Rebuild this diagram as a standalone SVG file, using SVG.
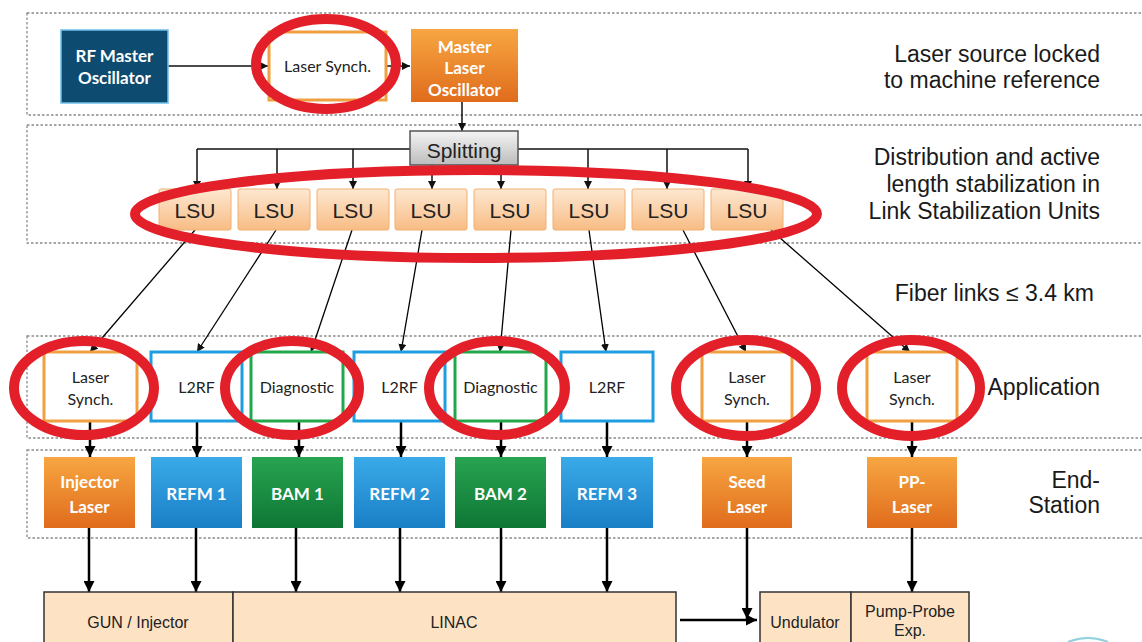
<svg xmlns="http://www.w3.org/2000/svg" width="1142" height="642" viewBox="0 0 1142 642">
<defs>
<linearGradient id="gOrange" x1="0" y1="0" x2="0" y2="1"><stop offset="0" stop-color="#f7a642"/><stop offset="1" stop-color="#e06c1c"/></linearGradient>
<linearGradient id="gBlue" x1="0" y1="0" x2="0" y2="1"><stop offset="0" stop-color="#3aaae8"/><stop offset="1" stop-color="#1a7fc6"/></linearGradient>
<linearGradient id="gGreen" x1="0" y1="0" x2="0" y2="1"><stop offset="0" stop-color="#27a451"/><stop offset="1" stop-color="#0f7634"/></linearGradient>
<linearGradient id="gLSU" x1="0" y1="0" x2="0" y2="1"><stop offset="0" stop-color="#fde8d2"/><stop offset="1" stop-color="#f8bc84"/></linearGradient>
<linearGradient id="gSplit" x1="0" y1="0" x2="0" y2="1"><stop offset="0" stop-color="#f4f4f4"/><stop offset="1" stop-color="#bcbcbc"/></linearGradient>
<marker id="ah" viewBox="0 0 10 10" refX="10" refY="5" markerWidth="8" markerHeight="8" markerUnits="userSpaceOnUse" orient="auto"><path d="M0,0 L10,5 L0,10 z" fill="#111"/></marker>
<marker id="ahb" viewBox="0 0 10 10" refX="10" refY="5" markerWidth="11" markerHeight="11" markerUnits="userSpaceOnUse" orient="auto"><path d="M0,0 L10,5 L0,10 z" fill="#000"/></marker>
</defs>
<style>
.sec{fill:none;stroke:#8a8a8a;stroke-width:1.3;stroke-dasharray:2.5 2}
.lbl{font-family:"Liberation Sans",Arial,sans-serif;font-size:23px;fill:#1a1a1a;text-anchor:end}
.wb{font-family:Lato,"Open Sans",sans-serif;font-weight:bold;fill:#fff;text-anchor:middle;font-size:17px}
.app{fill:#fff;stroke-width:3}
.ora{stroke:#f0a040}
.blu{stroke:#1e9ee0}
.grn{stroke:#22a84a}
.at{font-family:Lato,"Open Sans",sans-serif;font-size:16px;fill:#222;text-anchor:middle}
.lsu{fill:url(#gLSU);stroke:#f0b070;stroke-width:1}
.lsut{font-family:"Liberation Sans",Arial,sans-serif;font-size:21px;fill:#222;text-anchor:middle}
.c1{stroke:#111;stroke-width:1.5;fill:none;marker-end:url(#ah)}
.c2{stroke:#000;stroke-width:2.5;fill:none;marker-end:url(#ahb)}
.fib{stroke:#000;stroke-width:1.3;fill:none;marker-end:url(#ah)}
.hl{fill:none;stroke:#e3202a;stroke-width:10}
.bot{fill:#fde3c4;stroke:#333;stroke-width:1.5}
.bt{font-family:"Liberation Sans",Arial,sans-serif;font-size:16px;fill:#222;text-anchor:middle}
</style>
<rect width="1142" height="642" fill="#fff"/>
<g id="sections">
<rect class="sec" x="27" y="13" width="1130" height="102"/>
<rect class="sec" x="27" y="125" width="1130" height="118"/>
<rect class="sec" x="27" y="336" width="1130" height="102"/>
<rect class="sec" x="27" y="450" width="1130" height="88"/>
</g>
<g id="connectors">
<path class="c1" d="M168,66 H268"/>
<path class="c1" d="M386,66 H410"/>
<path class="c1" d="M462,102 V131"/>
<path stroke="#111" stroke-width="1.5" fill="none" d="M197,149 H748"/>
<path class="c1" d="M197,149 V189"/>
<path class="c1" d="M277,149 V189"/>
<path class="c1" d="M353,149 V189"/>
<path class="c1" d="M432,165 V189"/>
<path class="c1" d="M501,165 V189"/>
<path class="c1" d="M588,149 V189"/>
<path class="c1" d="M667,149 V189"/>
<path class="c1" d="M748,149 V189"/>
<path class="fib" d="M195,230 L90,352"/>
<path class="fib" d="M276,230 L197,352"/>
<path class="fib" d="M352,230 L311,352"/>
<path class="fib" d="M422,230 L401,352"/>
<path class="fib" d="M511,230 L500,352"/>
<path class="fib" d="M589,230 L606,352"/>
<path class="fib" d="M683,230 L746,352"/>
<path class="fib" d="M771,230 L910,352"/>
<path class="c2" d="M90,421 V457"/>
<path class="c2" d="M197,421 V457"/>
<path class="c2" d="M299,421 V457"/>
<path class="c2" d="M401,421 V457"/>
<path class="c2" d="M501,421 V457"/>
<path class="c2" d="M607,421 V457"/>
<path class="c2" d="M747,421 V457"/>
<path class="c2" d="M912,421 V457"/>
<path class="c2" d="M89,528 V592"/>
<path class="c2" d="M196,528 V592"/>
<path class="c2" d="M296,528 V592"/>
<path class="c2" d="M400,528 V592"/>
<path class="c2" d="M501,528 V592"/>
<path class="c2" d="M607,528 V592"/>
<path class="c2" d="M747,528 V619"/>
<path class="c2" d="M912,528 V592"/>
<path class="c2" d="M680,620 H757"/>
</g>
<g id="rf-master">
<rect x="61" y="30" width="107" height="73" fill="#0d4b70" stroke="#6cc0ec" stroke-width="1.5"/>
<text class="wb" x="114.5" y="62" font-size="16">RF Master</text>
<text class="wb" x="114.5" y="84" font-size="16">Oscillator</text>
</g>
<g id="laser-synch-top">
<rect class="app ora" x="269" y="32" width="117" height="68"/>
<text class="at" x="327.5" y="72" font-size="17">Laser Synch.</text>
</g>
<g id="master-laser">
<rect x="411" y="29" width="107" height="73" fill="url(#gOrange)"/>
<text class="wb" x="464.5" y="53" font-size="16">Master</text>
<text class="wb" x="464.5" y="74" font-size="16">Laser</text>
<text class="wb" x="464.5" y="96" font-size="16">Oscillator</text>
</g>
<g id="splitting">
<rect x="410" y="131" width="108" height="34" fill="url(#gSplit)" stroke="#555" stroke-width="1.5"/>
<text class="lsut" x="464" y="158" font-size="19">Splitting</text>
</g>
<g id="lsu1"><rect class="lsu" x="159" y="189" width="72" height="41" rx="2"/><text class="lsut" x="195" y="218">LSU</text></g>
<g id="lsu2"><rect class="lsu" x="238" y="189" width="72" height="41" rx="2"/><text class="lsut" x="274" y="218">LSU</text></g>
<g id="lsu3"><rect class="lsu" x="317" y="189" width="72" height="41" rx="2"/><text class="lsut" x="353" y="218">LSU</text></g>
<g id="lsu4"><rect class="lsu" x="395" y="189" width="72" height="41" rx="2"/><text class="lsut" x="431" y="218">LSU</text></g>
<g id="lsu5"><rect class="lsu" x="474" y="189" width="72" height="41" rx="2"/><text class="lsut" x="510" y="218">LSU</text></g>
<g id="lsu6"><rect class="lsu" x="553" y="189" width="72" height="41" rx="2"/><text class="lsut" x="589" y="218">LSU</text></g>
<g id="lsu7"><rect class="lsu" x="632" y="189" width="72" height="41" rx="2"/><text class="lsut" x="668" y="218">LSU</text></g>
<g id="lsu8"><rect class="lsu" x="711" y="189" width="72" height="41" rx="2"/><text class="lsut" x="747" y="218">LSU</text></g>
<g id="app-ls1"><rect class="app ora" x="44" y="352" width="93" height="69"/><text class="at" x="90.5" y="383">Laser</text><text class="at" x="90.5" y="405">Synch.</text></g>
<g id="app-l2rf1"><rect class="app blu" x="151" y="352" width="91" height="69"/><text class="at" x="196.5" y="393">L2RF</text></g>
<g id="app-diag1"><rect class="app grn" x="251" y="352" width="92" height="69"/><text class="at" x="297" y="393">Diagnostic</text></g>
<g id="app-l2rf2"><rect class="app blu" x="354" y="352" width="91" height="69"/><text class="at" x="399.5" y="393">L2RF</text></g>
<g id="app-diag2"><rect class="app grn" x="455" y="352" width="91" height="69"/><text class="at" x="500.5" y="393">Diagnostic</text></g>
<g id="app-l2rf3"><rect class="app blu" x="561" y="352" width="92" height="69"/><text class="at" x="607" y="393">L2RF</text></g>
<g id="app-ls7"><rect class="app ora" x="702" y="352" width="90" height="69"/><text class="at" x="747" y="383">Laser</text><text class="at" x="747" y="405">Synch.</text></g>
<g id="app-ls8"><rect class="app ora" x="867" y="352" width="90" height="69"/><text class="at" x="912" y="383">Laser</text><text class="at" x="912" y="405">Synch.</text></g>
<g id="end-injector"><rect x="44" y="457" width="91" height="71" fill="url(#gOrange)"/><text class="wb" x="89.5" y="488">Injector</text><text class="wb" x="89.5" y="513">Laser</text></g>
<g id="end-refm1"><rect x="151" y="457" width="91" height="71" fill="url(#gBlue)"/><text class="wb" x="196.5" y="500">REFM 1</text></g>
<g id="end-bam1"><rect x="252" y="457" width="91" height="71" fill="url(#gGreen)"/><text class="wb" x="297.5" y="500">BAM 1</text></g>
<g id="end-refm2"><rect x="354" y="457" width="91" height="71" fill="url(#gBlue)"/><text class="wb" x="399.5" y="500">REFM 2</text></g>
<g id="end-bam2"><rect x="455" y="457" width="91" height="71" fill="url(#gGreen)"/><text class="wb" x="500.5" y="500">BAM 2</text></g>
<g id="end-refm3"><rect x="561" y="457" width="92" height="71" fill="url(#gBlue)"/><text class="wb" x="607" y="500">REFM 3</text></g>
<g id="end-seed"><rect x="702" y="457" width="90" height="71" fill="url(#gOrange)"/><text class="wb" x="747" y="488">Seed</text><text class="wb" x="747" y="513">Laser</text></g>
<g id="end-pp"><rect x="867" y="457" width="90" height="71" fill="url(#gOrange)"/><text class="wb" x="912" y="488">PP-</text><text class="wb" x="912" y="513">Laser</text></g>
<g id="gun"><rect class="bot" x="44" y="592" width="189" height="60"/><text class="bt" x="138" y="628">GUN / Injector</text></g>
<g id="linac"><rect class="bot" x="233" y="592" width="443" height="60"/><text class="bt" x="454" y="628">LINAC</text></g>
<g id="undulator"><rect class="bot" x="760" y="592" width="91" height="60"/><text class="bt" x="805" y="628">Undulator</text></g>
<g id="pump-probe"><rect class="bot" x="851" y="592" width="118" height="60"/><text class="bt" x="910" y="617">Pump-Probe</text><text class="bt" x="910" y="636">Exp.</text></g>
<g id="highlights">
<ellipse class="hl" cx="326" cy="64" rx="70" ry="45"/>
<ellipse class="hl" cx="476" cy="214" rx="341" ry="44"/>
<ellipse class="hl" cx="84" cy="388" rx="70" ry="47"/>
<ellipse class="hl" cx="292" cy="388" rx="67" ry="47"/>
<ellipse class="hl" cx="497" cy="388" rx="68" ry="47"/>
<ellipse class="hl" cx="746" cy="388" rx="70" ry="48"/>
<ellipse class="hl" cx="911" cy="388" rx="69" ry="48"/>
</g>
<g id="labels">
<text class="lbl" x="1100" y="62">Laser source locked</text>
<text class="lbl" x="1100" y="88">to machine reference</text>
<text class="lbl" x="1100" y="165">Distribution and active</text>
<text class="lbl" x="1100" y="192">length stabilization in</text>
<text class="lbl" x="1100" y="219">Link Stabilization Units</text>
<text class="lbl" x="1094" y="301">Fiber links ≤ 3.4 km</text>
<text class="lbl" x="1100" y="395">Application</text>
<text class="lbl" x="1100" y="488">End-</text>
<text class="lbl" x="1100" y="513">Station</text>
</g>
<path d="M1068,642 Q1088,634 1108,642" fill="none" stroke="#8fd0dc" stroke-width="2"/>
</svg>
